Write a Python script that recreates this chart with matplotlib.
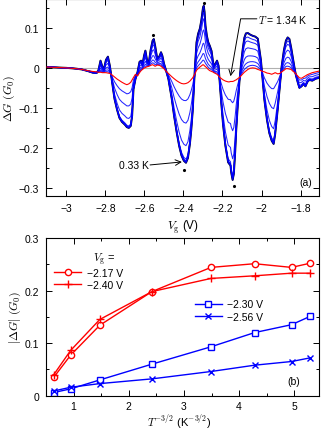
import matplotlib
matplotlib.use("Agg")
import matplotlib.pyplot as plt
import numpy as np
from matplotlib.ticker import MultipleLocator

plt.rcParams['font.family'] = ['Liberation Sans', 'DejaVu Sans']
plt.rcParams['mathtext.fontset'] = 'cm'

# ---- panel (a): Delta G vs gate voltage ----
vg = [-3.10, -3.05, -3.00, -2.95, -2.92, -2.89, -2.865, -2.845, -2.835, -2.825,
      -2.815, -2.808, -2.797, -2.787, -2.777, -2.770, -2.760, -2.753, -2.740, -2.728,
      -2.715, -2.700, -2.690, -2.680, -2.670, -2.663, -2.656, -2.646, -2.635, -2.625,
      -2.617, -2.610, -2.602, -2.595, -2.585, -2.578, -2.568, -2.558, -2.552, -2.545,
      -2.534, -2.522, -2.515, -2.508, -2.500, -2.490, -2.477, -2.460, -2.448, -2.435,
      -2.422, -2.410, -2.398, -2.387, -2.377, -2.367, -2.360, -2.353, -2.347, -2.341,
      -2.333, -2.325, -2.316, -2.308, -2.300, -2.296, -2.292, -2.287, -2.280, -2.273,
      -2.265, -2.256, -2.250, -2.244, -2.236, -2.228, -2.220, -2.213, -2.205, -2.197,
      -2.185, -2.171, -2.165, -2.159, -2.155, -2.148, -2.142, -2.135, -2.130, -2.122,
      -2.113, -2.105, -2.096, -2.088, -2.080, -2.070, -2.058, -2.045, -2.032, -2.019,
      -2.012, -2.003, -1.994, -1.985, -1.972, -1.960, -1.948, -1.938, -1.930, -1.917,
      -1.907, -1.897, -1.885, -1.875, -1.866, -1.857, -1.848, -1.840, -1.832, -1.824,
      -1.815, -1.806, -1.795, -1.785, -1.775, -1.765, -1.755, -1.740, -1.722, -1.705]

# lowest temperature trace (0.33 K)
dg_033 = [0.002, 0.001, 0.000, -0.002, -0.004, -0.008, -0.012, -0.013, -0.005, 0.018,
          0.002, -0.004, 0.020, 0.028, 0.005, -0.020, -0.055, -0.078, -0.105, -0.125,
          -0.135, -0.142, -0.148, -0.150, -0.145, -0.120, -0.053, -0.028, -0.010, 0.015,
          0.018, 0.008, 0.030, 0.043, 0.015, 0.011, 0.045, 0.068, 0.072, 0.055,
          0.022, 0.030, 0.039, 0.030, 0.011, -0.005, -0.028, -0.077, -0.120, -0.160,
          -0.195, -0.219, -0.232, -0.237, -0.225, -0.190, -0.155, -0.110, -0.055, 0.003,
          0.064, 0.085, 0.098, 0.120, 0.150, 0.155, 0.140, 0.105, 0.080, 0.064,
          0.055, 0.042, 0.020, 0.003, 0.010, 0.018, 0.005, -0.044, -0.095, -0.142,
          -0.195, -0.236, -0.240, -0.244, -0.262, -0.280, -0.265, -0.210, -0.158, -0.095,
          -0.033, 0.010, 0.048, 0.075, 0.086, 0.087, 0.083, 0.080, 0.078, 0.073,
          0.050, 0.019, -0.030, -0.081, -0.130, -0.163, -0.182, -0.190, -0.165, -0.103,
          -0.050, 0.003, 0.045, 0.068, 0.076, 0.072, 0.050, 0.026, 0.003, -0.018,
          -0.035, -0.050, -0.046, -0.040, -0.046, -0.035, -0.030, -0.032, -0.027, -0.025]

# highest temperature trace (1.34 K)
dg_134 = [0.002, 0.001, 0.000, -0.002, -0.004, -0.007, -0.009, -0.010, -0.011, -0.011,
          -0.012, -0.012, -0.012, -0.013, -0.014, -0.016, -0.020, -0.023, -0.028, -0.032,
          -0.036, -0.040, -0.042, -0.040, -0.036, -0.030, -0.024, -0.016, -0.020, -0.012,
          -0.007, -0.004, -0.001, 0.001, 0.003, 0.004, 0.006, 0.008, 0.006, 0.004,
          0.007, 0.006, 0.004, 0.001, -0.002, -0.008, -0.014, -0.022, -0.027, -0.032,
          -0.036, -0.039, -0.040, -0.039, -0.037, -0.033, -0.029, -0.025, -0.020, -0.015,
          -0.006, -0.002, 0.002, 0.005, 0.008, 0.007, 0.005, 0.003, 0.000, -0.004,
          -0.007, -0.009, -0.010, -0.012, -0.014, -0.016, -0.020, -0.024, -0.027, -0.030,
          -0.033, -0.035, -0.035, -0.034, -0.034, -0.034, -0.033, -0.031, -0.030, -0.027,
          -0.024, -0.020, -0.015, -0.011, -0.008, -0.004, -0.001, 0.000, -0.001, -0.004,
          -0.005, -0.007, -0.009, -0.010, -0.013, -0.014, -0.016, -0.014, -0.012, -0.015,
          -0.014, -0.010, -0.006, -0.002, -0.002, -0.003, -0.004, -0.008, -0.011, -0.015,
          -0.020, -0.025, -0.026, -0.023, -0.020, -0.017, -0.015, -0.012, -0.010, -0.008]

# marked gate voltages (dots)
dot_v = [-2.555, -2.296, -2.396, -2.143]
dot_g = [0.083, 0.163, -0.255, -0.294]

# ---- panel (b): amplitude vs T^-3/2 ----
t_inv = [0.64, 0.945, 1.475, 2.42, 3.49, 4.28, 4.95, 5.29]
amp_217 = [0.035, 0.077, 0.134, 0.198, 0.244, 0.251, 0.244, 0.252]
amp_240 = [0.040, 0.086, 0.145, 0.198, 0.223, 0.228, 0.233, 0.233]
amp_230 = [0.006, 0.013, 0.030, 0.060, 0.093, 0.120, 0.135, 0.151]
amp_256 = [0.009, 0.016, 0.023, 0.032, 0.046, 0.058, 0.065, 0.072]

RED = '#ff0000'
BLUE = '#0000ff'

fig = plt.figure(figsize=(3.22, 4.31), dpi=100)
ax1 = fig.add_axes([0.143, 0.543, 0.848, 0.457])
ax2 = fig.add_axes([0.143, 0.0796, 0.848, 0.366])

# intermediate temperatures: mix of the two measured end traces, weighted with panel (b) amplitudes
lo = np.array(dg_033)
hi = np.array(dg_134)
a217, a240, a230, a256 = (np.array(a) for a in (amp_217, amp_240, amp_230, amp_256))
w_neg = 0.5 * ((a217 - a217[0]) / (a217[-1] - a217[0]) + (a240 - a240[0]) / (a240[-1] - a240[0]))
w_pos = 0.5 * ((a230 - a230[0]) / (a230[-1] - a230[0]) + (a256 - a256[0]) / (a256[-1] - a256[0]))

ax1.axhline(0, color='#b0b0b0', lw=0.8, zorder=0)
ax1.plot(vg, lo, color='black', lw=1.4, zorder=1)
for i in range(1, len(t_inv)):
    w = np.where(lo - hi > 0, w_pos[i], w_neg[i])
    ax1.plot(vg, hi + w * (lo - hi), color=BLUE, lw=0.75 if i < len(t_inv) - 1 else 0.95,
             alpha=0.85, zorder=2)
ax1.plot(vg, hi, color=RED, lw=0.8, zorder=3)
ax1.plot(dot_v, dot_g, 'k.', markersize=2.5)

ax1.set_xlim(-3.104, -1.705)
ax1.set_ylim(-0.32, 0.172)
ax1.yaxis.set_minor_locator(MultipleLocator(0.05))
ax1.set_xticks(np.arange(-3.0, -1.75, 0.2))
ax1.set_xticklabels(['\u22123', '\u22122.8', '\u22122.6', '\u22122.4', '\u22122.2', '\u22122', '\u22121.8'])
ax1.set_yticks([-0.3, -0.2, -0.1, 0, 0.1])
ax1.set_yticklabels(['\u22120.3', '\u22120.2', '\u22120.1', '0', '0.1'])
ax1.set_xlabel(r'$V_{\rm g}$ (V)', fontsize=8.5, labelpad=3)
ax1.set_ylabel(r'$\Delta G\ (G_0)$', fontsize=8.5, labelpad=1.5)

ax1.annotate('', xy=(-2.159, -0.021), xytext=(-2.024, 0.1225),
             arrowprops=dict(arrowstyle='->', color='black', lw=0.7, shrinkA=0, shrinkB=0,
                             connectionstyle='angle,angleA=0,angleB=80,rad=0'))
ax1.text(-2.02, 0.1225, r'$T$ = 1.34 K', fontsize=7.5, va='center', ha='left')
ax1.annotate('', xy=(-2.408, -0.235), xytext=(-2.571, -0.2425),
             arrowprops=dict(arrowstyle='->', color='black', lw=0.7, shrinkA=0, shrinkB=0))
ax1.text(-2.578, -0.2425, '0.33 K', fontsize=7.5, va='center', ha='right')
ax1.text(-1.74, -0.285, '(a)', fontsize=7.5, va='center', ha='right')

# panel (b)
ax2.plot(t_inv, amp_217, '-o', color=RED, lw=1.0, ms=4.5, mfc='white', mew=1.0, label='\u22122.17 V')
ax2.plot(t_inv, amp_240, '-+', color=RED, lw=1.0, ms=6, mew=1.0, label='\u22122.40 V')
ax2.plot(t_inv, amp_230, '-s', color=BLUE, lw=1.0, ms=4.5, mfc='white', mew=1.0, label='\u22122.30 V')
ax2.plot(t_inv, amp_256, '-x', color=BLUE, lw=1.0, ms=3.8, mew=1.0, label='\u22122.56 V')

ax2.set_xlim(0.5, 5.45)
ax2.set_ylim(0, 0.3)
ax2.xaxis.set_major_locator(MultipleLocator(1))
ax2.xaxis.set_minor_locator(MultipleLocator(0.5))
ax2.yaxis.set_minor_locator(MultipleLocator(0.05))
ax2.set_yticks([0, 0.1, 0.2, 0.3])
ax2.set_yticklabels(['0', '0.1', '0.2', '0.3'])
fig.text(0.556, 0.001, r'$T^{-3/2}$ (K$^{-3/2}$)', fontsize=8, ha='center', va='bottom')
ax2.set_ylabel(r'$|\Delta G|\ (G_0)$', fontsize=8.5, labelpad=1.5)

h, l = ax2.get_legend_handles_labels()
leg1 = ax2.legend(h[:2], l[:2], loc='upper left', bbox_to_anchor=(0.03, 0.81), frameon=False,
                  fontsize=7.5, handlelength=2.6, handletextpad=0.5, labelspacing=0.2,
                  borderpad=0, borderaxespad=0)
ax2.add_artist(leg1)
ax2.legend(h[2:], l[2:], loc='upper left', bbox_to_anchor=(0.545, 0.61), frameon=False,
           fontsize=7.5, handlelength=2.6, handletextpad=0.5, labelspacing=0.2,
           borderpad=0, borderaxespad=0)
ax2.text(0.171, 0.865, r'$V_{\rm g}$ =', transform=ax2.transAxes, fontsize=8, va='center')
ax2.text(0.93, 0.095, '(b)', transform=ax2.transAxes, fontsize=7.5, va='center', ha='right')

for ax in (ax1, ax2):
    ax.tick_params(which='both', direction='in', top=True, right=True, labelsize=7.5)
    ax.tick_params(which='major', length=4, width=0.7, pad=5)
    ax.tick_params(which='minor', length=2.5, width=0.7)
    for s in ax.spines.values():
        s.set_linewidth(0.8)
ax2.tick_params(axis='x', which='major', pad=3.5)

fig.savefig('out.png', dpi=100)
